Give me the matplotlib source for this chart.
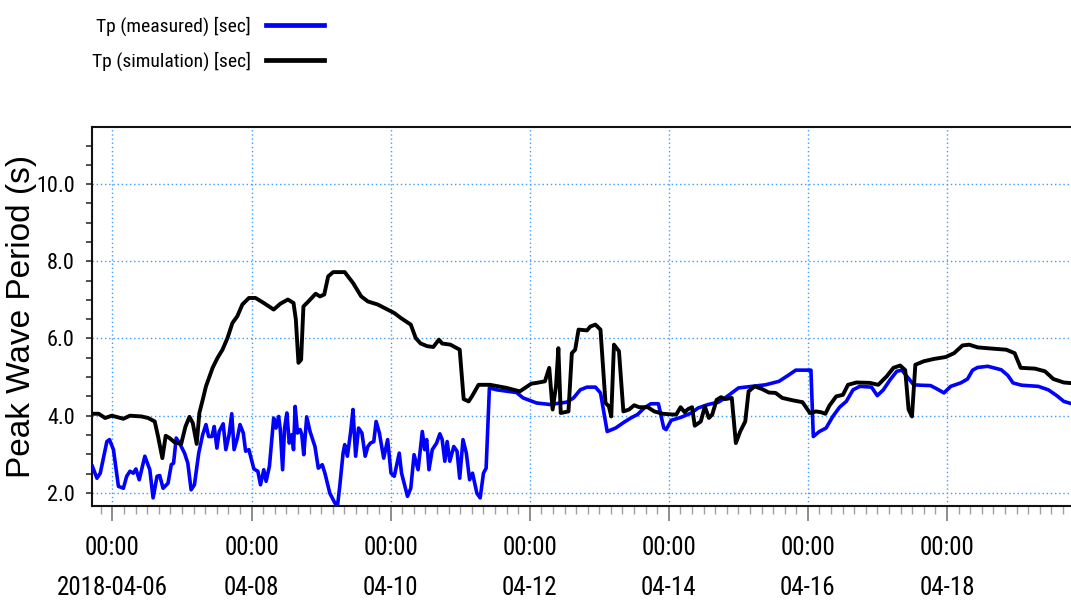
import os
import numpy as np
import matplotlib
matplotlib.use("Agg")
import matplotlib.pyplot as plt
import matplotlib.dates as mdates
from matplotlib import font_manager
from matplotlib.font_manager import FontProperties
from matplotlib.ticker import MultipleLocator, FuncFormatter
from matplotlib.lines import Line2D

# ---- data: hours since 2018-04-06 00:00 and peak wave period (s) ----
meas_hours = [-6.95, -5.36, -4.22, -1.94, -1.03, 0.34, 2.05, 3.76, 4.90, 6.04,
              7.18, 8.10, 9.24, 11.17, 12.88, 14.02, 15.39, 16.30, 17.45, 19.16,
              20.30, 21.09, 22.00, 23.14, 24.86, 26.00, 27.14, 28.28, 29.76, 31.13,
              32.27, 33.18, 34.32, 35.12, 36.03, 36.83, 38.20, 39.11, 40.25, 41.16,
              41.96, 43.10, 44.01, 45.15, 45.95, 47.09, 48.80, 50.17, 51.08, 52.22,
              53.02, 54.16, 55.64, 56.44, 57.35, 57.92, 58.72, 59.40, 60.20, 61.00,
              61.91, 62.48, 63.05, 63.85, 64.76, 65.33, 66.01, 67.04, 68.18, 69.89,
              71.03, 72.40, 73.31, 75.02, 76.73, 77.64, 78.44, 79.58, 80.15, 81.06,
              82.21, 83.00, 83.91, 84.94, 86.08, 87.22, 88.13, 89.04, 90.18, 90.98,
              92.12, 93.60, 94.97, 96.11, 97.25, 98.96, 99.76, 101.81, 102.95, 104.09,
              105.46, 106.94, 107.74, 108.43, 109.23, 110.37, 111.85, 112.99, 113.79, 114.70,
              115.50, 116.41, 117.78, 118.92, 119.83, 120.97, 122.11, 123.25, 124.27, 125.76,
              126.90, 128.04, 128.95, 130.09, 132.60, 139.44, 141.72,
              146.33, 150.98, 156.79, 159.12, 161.44, 163.76, 166.67, 168.41, 170.74, 173.64,
              176.54, 178.87, 181.19, 183.51, 185.84, 188.40, 190.26, 191.07, 192.81, 196.30,
              199.79, 202.11, 205.60, 209.09, 211.41, 213.73, 216.06, 220.71, 225.36, 230.01,
              233.50, 235.82, 241.05, 241.87, 243.96, 246.28, 248.60, 250.93, 253.25, 255.58,
              257.90, 261.97, 263.95, 266.04, 268.36, 270.68, 272.43, 274.17, 276.50, 278.82,
              282.31, 284.63, 286.95, 289.28, 292.77, 295.09, 296.83, 298.58, 302.06, 306.71,
              309.04, 310.78, 313.69, 319.50, 322.98, 325.89, 328.33, 331.46]
meas_tp = [2.69, 2.38, 2.51, 3.33, 3.38, 3.12, 2.17, 2.12, 2.43, 2.56,
           2.51, 2.62, 2.34, 2.95, 2.60, 1.87, 2.43, 2.45, 2.12, 2.25,
           2.73, 2.77, 3.42, 3.29, 3.03, 2.77, 2.08, 2.21, 3.03, 3.51,
           3.77, 3.46, 3.46, 3.72, 3.16, 3.59, 3.79, 3.12, 3.51, 4.05,
           3.12, 3.42, 3.77, 3.55, 3.08, 3.12, 2.62, 2.56, 2.21, 2.60,
           2.30, 2.69, 3.94, 3.68, 3.98, 3.64, 2.60, 3.68, 4.07, 3.29,
           3.51, 3.12, 4.24, 3.55, 3.64, 3.51, 2.99, 3.97, 3.59, 3.20,
           2.64, 2.73, 2.51, 1.99, 1.74, 1.65, 2.17, 3.03, 3.25, 2.95,
           3.59, 4.16, 2.95, 3.68, 3.55, 2.95, 3.20, 3.29, 3.33, 3.85,
           3.55, 2.90, 3.38, 2.51, 2.43, 3.03, 2.51, 1.91, 2.12, 2.99,
           2.60, 3.59, 3.12, 3.38, 2.60, 3.12, 3.29, 3.53, 3.38, 2.82,
           3.33, 2.82, 3.20, 3.08, 2.38, 3.38, 3.03, 2.34, 2.51, 1.99,
           1.87, 2.51, 2.64, 4.72, 4.67, 4.60, 4.46,
           4.33, 4.29, 4.35, 4.46, 4.67, 4.74, 4.74, 4.59, 3.59, 3.68,
           3.83, 3.94, 4.03, 4.20, 4.31, 4.31, 3.68, 3.64, 3.88, 3.96,
           4.07, 4.20, 4.29, 4.35, 4.46, 4.59, 4.72, 4.76, 4.80, 4.89,
           5.06, 5.18, 5.18, 3.46, 3.59, 3.68, 3.98, 4.22, 4.37, 4.67,
           4.76, 4.74, 4.52, 4.67, 4.93, 5.15, 5.18, 5.02, 4.80, 4.79,
           4.78, 4.69, 4.59, 4.76, 4.85, 4.95, 5.18, 5.25, 5.28, 5.19,
           5.04, 4.85, 4.79, 4.76, 4.67, 4.52, 4.37, 4.30]

sim_hours = [-6.95, -4.79, -2.51, -0.23, 3.76, 6.04, 10.03, 12.31, 14.59, 15.73,
             17.22, 18.36, 19.72, 21.43, 23.71, 25.20, 26.57, 27.71, 29.07, 29.98,
             31.13, 32.27, 34.55, 36.26, 37.97, 39.68, 41.39, 43.10, 44.81, 47.09,
             49.37, 52.22, 55.64, 57.92, 60.54, 62.48, 63.28, 64.19, 65.10, 65.90,
             67.61, 70.12, 71.60, 73.08, 74.45, 76.16, 80.15, 83.00, 85.85, 88.13,
             91.55, 94.40, 97.25, 99.53, 102.95, 104.66, 106.37, 108.66, 110.71, 112.65,
             113.79, 116.64, 119.83, 121.20, 122.91, 124.05, 126.33, 130.32, 136.02, 140.58,
             144.57,
             146.33, 149.23, 150.74, 151.90, 153.06, 153.88, 154.70, 157.37, 158.53, 159.69,
             160.85, 163.76, 164.92, 166.67, 168.41, 170.15, 171.31, 172.13, 173.06, 174.80,
             176.31, 178.29, 180.03, 181.77, 184.68, 187.00, 189.91, 193.39, 194.56, 196.07,
             197.46, 198.63, 200.02, 200.95, 203.04, 204.44, 205.83, 206.99, 208.50, 210.02,
             211.41, 213.73, 215.13, 216.64, 218.38, 219.54, 221.64, 224.19, 226.51, 228.84,
             231.16, 234.65, 238.14, 240.70, 242.79, 244.53, 246.04, 247.44, 249.76, 252.09,
             253.83, 256.74, 261.39, 264.29, 267.20, 269.52, 271.85, 273.59, 274.75, 275.91,
             277.08, 279.98, 283.47, 287.54, 290.45, 293.35, 295.67, 298.58, 303.23, 308.45,
             311.35, 313.44, 318.33, 321.82, 324.72, 328.33, 331.46]
sim_tp = [4.05, 4.05, 3.94, 4.00, 3.92, 4.00, 3.98, 3.94, 3.85, 3.46,
          2.90, 3.48, 3.42, 3.31, 3.27, 3.72, 3.97, 3.81, 3.27, 4.07,
          4.41, 4.76, 5.24, 5.50, 5.71, 6.01, 6.40, 6.58, 6.88, 7.05,
          7.05, 6.92, 6.75, 6.90, 7.01, 6.92, 6.49, 5.37, 5.45, 6.83,
          6.96, 7.16, 7.09, 7.14, 7.61, 7.72, 7.72, 7.44, 7.09, 6.96,
          6.88, 6.77, 6.66, 6.53, 6.36, 6.01, 5.87, 5.80, 5.78, 5.97,
          5.87, 5.84, 5.71, 4.43, 4.37, 4.50, 4.80, 4.80, 4.72, 4.63,
          4.83,
          4.85, 4.89, 5.24, 4.16, 4.76, 5.75, 4.07, 4.11, 5.62, 5.71,
          6.23, 6.21, 6.31, 6.36, 6.23, 4.33, 4.24, 3.98, 5.84, 5.67,
          4.11, 4.16, 4.27, 4.22, 4.22, 4.11, 4.05, 4.03, 4.03, 4.22,
          4.09, 4.17, 4.22, 3.74, 3.85, 4.24, 3.94, 4.03, 4.41, 4.48,
          4.43, 4.46, 3.29, 3.59, 3.85, 4.63, 4.76, 4.69, 4.60, 4.59,
          4.46, 4.40, 4.35, 4.07, 4.11, 4.09, 4.05, 4.26, 4.50, 4.54,
          4.80, 4.86, 4.85, 4.80, 5.02, 5.24, 5.30, 5.18, 4.16, 3.98,
          5.32, 5.41, 5.47, 5.52, 5.62, 5.82, 5.84, 5.77, 5.74, 5.71,
          5.62, 5.24, 5.22, 5.15, 4.95, 4.86, 4.84]

series_labels = ["Tp (measured) [sec]", "Tp (simulation) [sec]"]
series_colors = ["#0000ff", "#000000"]
y_label = "Peak Wave Period (s)"

t0 = np.datetime64("2018-04-06T00:00")


def to_time(hours):
    return t0 + np.round(np.asarray(hours) * 60).astype("timedelta64[m]")


# ---- fonts: prefer a narrow sans face for ticks and legend ----
def find_narrow():
    prefs = ["liberationsansnarrow-regular", "robotocondensed-regular",
             "notosans-condensed", "dejavusanscondensed.", "opensans-condensed",
             "opensans_condensed-regular", "arialn"]
    files = [f.fname for f in font_manager.fontManager.ttflist]
    for key in prefs:
        for fn in files:
            base = os.path.basename(fn).lower()
            if base.startswith(key) and "bold" not in base and "italic" not in base \
                    and "oblique" not in base and "light" not in base:
                return FontProperties(fname=fn)
    for f in font_manager.fontManager.ttflist:
        if f.stretch in ("condensed", "semi-condensed") and f.style == "normal" \
                and f.weight in (400, "normal", "regular"):
            return FontProperties(fname=f.fname)
    return None


narrow_fp = find_narrow()
if narrow_fp is not None:
    xtick_size, ytick_size, leg_size = 18, 16, 14
else:
    narrow_fp = FontProperties(family="Liberation Sans")
    xtick_size, ytick_size, leg_size = 16, 14, 13

fig = plt.figure(figsize=(10.71, 6.04), dpi=100)
ax = fig.add_axes([92 / 1071, 1 - 506 / 604, 1 - 92 / 1071, (506 - 127) / 604])

ax.plot(to_time(meas_hours), meas_tp, color=series_colors[0], lw=2.6,
        solid_joinstyle="round", zorder=3)
ax.plot(to_time(sim_hours), sim_tp, color=series_colors[1], lw=2.8,
        solid_joinstyle="round", zorder=4)

ax.set_xlim(to_time([-7.07])[0], to_time([330.8])[0])
ax.set_ylim(1.66, 11.48)

# y axis
ax.yaxis.set_major_locator(MultipleLocator(2))
ax.yaxis.set_minor_locator(MultipleLocator(0.5))
ax.yaxis.set_major_formatter(FuncFormatter(lambda v, p: f"{v:.1f}"))
ax.tick_params(axis="y", which="both", direction="out", length=4.5, width=1.2,
               color="#333333", pad=8)

# x axis
ax.xaxis.set_major_locator(mdates.DayLocator(bymonthday=range(2, 31, 2)))
ax.xaxis.set_minor_locator(mdates.HourLocator(byhour=range(0, 24, 4)))


def fmt_date(v, pos):
    d = mdates.num2date(v)
    if d.month == 4 and d.day == 6:
        return d.strftime("%H:%M\n%Y-%m-%d")
    return d.strftime("%H:%M\n%m-%d")


ax.xaxis.set_major_formatter(FuncFormatter(fmt_date))
ax.tick_params(axis="x", which="major", direction="out", length=10.5, width=1.2,
               color="#7a7a7a", pad=11)
ax.tick_params(axis="x", which="minor", direction="out", length=5.5, width=1.0,
               color="#a0a0a0")
fig.canvas.draw()
for lab in ax.get_xticklabels():
    lab.set_fontproperties(narrow_fp)
    lab.set_fontsize(xtick_size)
    lab.set_linespacing(1.85)
for lab in ax.get_yticklabels():
    lab.set_fontproperties(narrow_fp)
    lab.set_fontsize(ytick_size)

# grid and frame
ax.grid(which="major", color="#3d9cff", linestyle=(0, (1, 2)), linewidth=1.0)
for side in ("left", "bottom", "top"):
    ax.spines[side].set_linewidth(1.5)
    ax.spines[side].set_color("#111111")
ax.spines["right"].set_visible(False)

ax.set_ylabel(y_label, fontsize=24, family="Liberation Sans", va="center")
ax.yaxis.set_label_coords(-70 / 979, 0.5)

# legend above the plot, text first then line sample
leg_fp = narrow_fp.copy()
leg_fp.set_size(leg_size)
handles = [Line2D([], [], color=c, lw=3.4) for c in series_colors]
fig.legend(handles, series_labels, loc="upper left",
           bbox_to_anchor=(92 / 1071, 1 - 17 / 604), frameon=False,
           markerfirst=False, borderpad=0, borderaxespad=0,
           handlelength=3.0, handletextpad=0.75, labelspacing=0.8,
           prop=leg_fp)

fig.savefig("out.png", dpi=100)
